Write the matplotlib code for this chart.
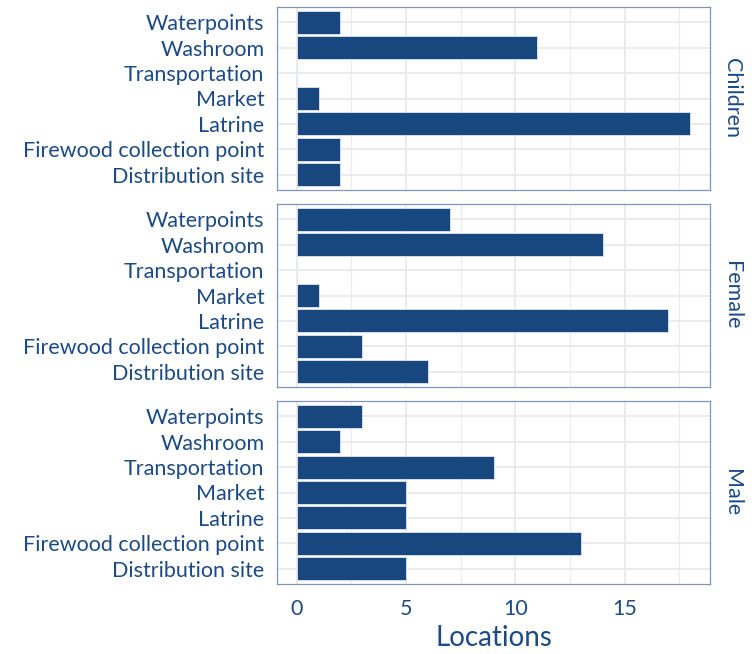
import matplotlib
matplotlib.use('Agg')
from matplotlib import pyplot as plt
from matplotlib.ticker import MultipleLocator

plt.rcParams['font.family'] = ['Lato', 'DejaVu Sans']

categories = ['Distribution site', 'Firewood collection point', 'Latrine',
              'Market', 'Transportation', 'Washroom', 'Waterpoints']
groups = ['Children', 'Female', 'Male']
children = [2, 2, 18, 1, 0, 11, 2]
female = [6, 3, 17, 1, 0, 14, 7]
male = [5, 13, 5, 5, 9, 2, 3]
x_ticks = [0, 5, 10, 15]

bar_color = '#17477e'
text_color = '#1c4a85'
border_color = '#7f96ba'
grid_color = '#ebebeb'

fig = plt.figure(figsize=(7.52, 6.54), dpi=100)
W, H = 752, 654
left, right = 277, 710
tops = [7, 204, 401]
panel_h = 183

positions = list(range(1, len(categories) + 1))
for i, (name, vals) in enumerate(zip(groups, [children, female, male])):
    top = tops[i]
    ax = fig.add_axes([left / W, 1 - (top + panel_h) / H,
                       (right - left) / W, panel_h / H])
    ax.set_axisbelow(True)
    ax.barh(positions, vals, height=0.9, color=bar_color,
            edgecolor='#dfe6f0', linewidth=0.6)
    ax.set_xlim(-0.9, 18.9)
    ax.set_ylim(0.4, 7.6)
    ax.set_yticks(positions)
    ax.set_yticklabels(categories)
    ax.xaxis.set_major_locator(MultipleLocator(5))
    ax.xaxis.set_minor_locator(MultipleLocator(2.5))
    ax.grid(which='major', color=grid_color, linewidth=1.4)
    ax.grid(which='minor', axis='x', color=grid_color, linewidth=0.8)
    ax.tick_params(which='both', length=0, colors=text_color,
                   labelsize=15.5, pad=9)
    for s in ax.spines.values():
        s.set_color(border_color)
        s.set_linewidth(0.9)
    if i < 2:
        ax.set_xticklabels([])
    else:
        ax.set_xticks(x_ticks)
        ax.tick_params(axis='x', pad=11)
        ax.set_xlabel('Locations', fontsize=20, color=text_color, labelpad=4)
    ax.text(1.05, 0.5, name, transform=ax.transAxes, rotation=-90,
            ha='center', va='center', fontsize=15.5, color=text_color)

fig.savefig('out.png', dpi=100)
